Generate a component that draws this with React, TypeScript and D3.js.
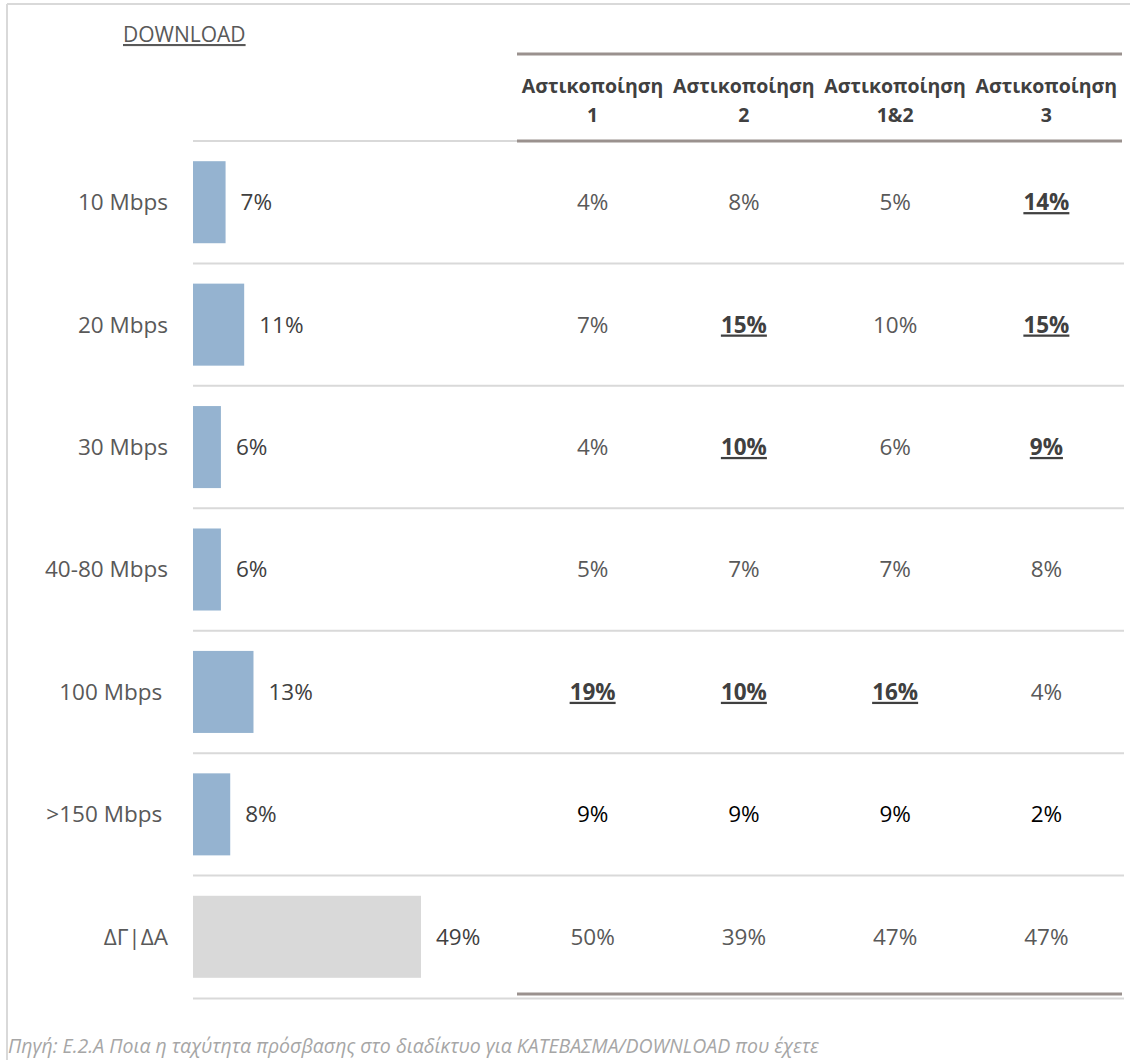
import React from "react";
import * as d3 from "d3";

const categories = ["10 Mbps", "20 Mbps", "30 Mbps", "40-80 Mbps", "100 Mbps ", ">150 Mbps ", "ΔΓ|ΔΑ"];
const totalValues = [7, 11, 6, 6, 13, 8, 49];
const columnHeads = [["Αστικοποίηση", "1"], ["Αστικοποίηση", "2"], ["Αστικοποίηση", "1&2"], ["Αστικοποίηση", "3"]];
const urban1 = [4, 7, 4, 5, 19, 9, 50];
const urban2 = [8, 15, 10, 7, 10, 9, 39];
const urban12 = [5, 10, 6, 7, 16, 9, 47];
const urban3 = [14, 15, 9, 8, 4, 2, 47];
const highlight1 = [false, false, false, false, true, false, false];
const highlight2 = [false, true, true, false, true, false, false];
const highlight12 = [false, false, false, false, true, false, false];
const highlight3 = [true, true, true, false, false, false, false];
const title = "DOWNLOAD";
const source = "Πηγή: Ε.2.Α Ποια η ταχύτητα πρόσβασης στο διαδίκτυο για ΚΑΤΕΒΑΣΜΑ/DOWNLOAD που έχετε";

const W = 1135;
const H = 1060;
const FONT = "'Open Sans', 'Noto Sans', sans-serif";

export default function App() {
  const tableCols = [urban1, urban2, urban12, urban3];
  const tableHl = [highlight1, highlight2, highlight12, highlight3];
  const colKeys = columnHeads.map((c) => c.join(" "));

  const y = d3.scaleBand<string>().domain(categories).range([141, 998]).paddingInner(0.33).paddingOuter(0.165);
  const x = d3.scaleLinear().domain([0, 49]).range([193, 421]);
  const xc = d3.scaleBand<string>().domain(colKeys).range([517, 1122]);
  const step = y.step();
  const rowTop = (i: number) => 141 + i * step;

  const thick = "#9a918e";
  const thin = "#d9d9d9";
  const fs = 22.5;

  return (
    <svg width={W} height={H} style={{ position: "absolute", left: 0, top: 0, background: "#fff" }} fontFamily={FONT}>
      {/* outer frame */}
      <line x1={7} y1={4} x2={1130} y2={4} stroke={thin} strokeWidth={2} />
      <line x1={7} y1={4} x2={7} y2={H} stroke={thin} strokeWidth={2} />

      {/* title */}
      <text x={123} y={42} fontSize={21} fill="#595959" textDecoration="underline">{title}</text>

      {/* header lines */}
      <line x1={517} y1={54} x2={1122} y2={54} stroke={thick} strokeWidth={3} />
      <line x1={193} y1={141} x2={517} y2={141} stroke={thin} strokeWidth={2} />
      <line x1={517} y1={141} x2={1122} y2={141} stroke={thick} strokeWidth={3} />

      {columnHeads.map((c, j) => {
        const cx = (xc(colKeys[j]) as number) + xc.bandwidth() / 2;
        return (
          <text key={j} x={cx} textAnchor="middle" fontSize={19.5} fontWeight={700} fill="#404040">
            <tspan x={cx} y={93}>{c[0]}</tspan>
            <tspan x={cx} y={122}>{c[1]}</tspan>
          </text>
        );
      })}

      {/* row separators */}
      {categories.map((c, i) =>
        i > 0 ? <line key={"l" + i} x1={193} y1={rowTop(i)} x2={1124} y2={rowTop(i)} stroke={thin} strokeWidth={2} /> : null
      )}
      <line x1={517} y1={994} x2={1122} y2={994} stroke={thick} strokeWidth={3} />
      <line x1={193} y1={998.5} x2={1124} y2={998.5} stroke={thin} strokeWidth={2} />

      {categories.map((c, i) => {
        const cy = rowTop(i) + step / 2;
        const isLast = i === categories.length - 1;
        const rowColor = i === 5 ? "#000000" : "#595959";
        return (
          <g key={c}>
            <text x={168} y={cy} dy="0.35em" textAnchor="end" fontSize={fs} fill="#595959" style={{ whiteSpace: "pre" }}>
              {c}
            </text>
            <rect x={x(0)} y={y(c)} width={x(totalValues[i]) - x(0)} height={y.bandwidth()} fill={isLast ? "#d9d9d9" : "#95b3d0"} />
            <text x={x(totalValues[i]) + 15} y={cy} dy="0.35em" fontSize={fs} fill="#404040">
              {totalValues[i] + "%"}
            </text>
            {tableCols.map((col, j) => {
              const cx = (xc(colKeys[j]) as number) + xc.bandwidth() / 2;
              const hl = tableHl[j][i];
              return (
                <text
                  key={j}
                  x={cx}
                  y={cy}
                  dy="0.35em"
                  textAnchor="middle"
                  fontSize={fs}
                  fontWeight={hl ? 700 : 400}
                  textDecoration={hl ? "underline" : undefined}
                  fill={hl ? "#404040" : rowColor}
                >
                  {col[i] + "%"}
                </text>
              );
            })}
          </g>
        );
      })}

      <text x={8} y={1053} fontSize={19.5} fontStyle="italic" fill="#a6a6a6">{source}</text>
    </svg>
  );
}
